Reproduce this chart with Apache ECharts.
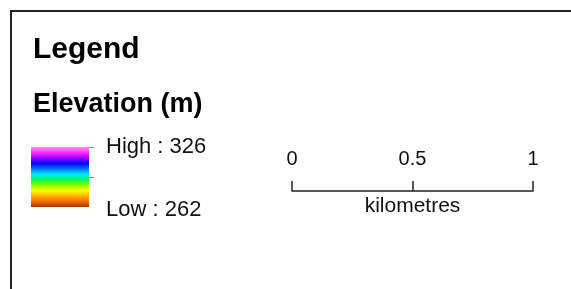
<!DOCTYPE html>
<html>
<head>
<meta charset="utf-8">
<script src="https://cdn.jsdelivr.net/npm/echarts@6/dist/echarts.min.js"></script>
<style>
  html, body { margin: 0; padding: 0; background: #fff; }
  #chart { width: 571px; height: 289px; }
</style>
</head>
<body>
<div id="chart"></div>
<script>
// elevation ramp, top (high) to bottom (low)
const rampColors = ['#ff90ff', '#ff30ff', '#a000ff', '#0000ff', '#0070ff', '#00e8ff', '#00ff50', '#90ff00', '#ffff00', '#ffb000', '#f07000', '#a83000'];
const elevMin = 262;
const elevMax = 326;
const elevTicks = [294, 326];
const elevLabels = { 326: 'High : 326', 262: 'Low : 262' };
// scale bar
const scaleMin = 0;
const scaleMax = 1;
const scaleStep = 0.5;
const scaleUnit = 'kilometres';

const font = 'Liberation Sans, Arial, sans-serif';
const myChart = echarts.init(document.getElementById('chart'));

const option = {
    animation: false,
    backgroundColor: '#fff',
    title: [
        { text: 'Legend', left: 28, top: 30, textStyle: { fontFamily: font, fontSize: 30, fontWeight: 'bold', color: '#000' } },
        { text: 'Elevation (m)', left: 28, top: 86, textStyle: { fontFamily: font, fontSize: 27, fontWeight: 'bold', color: '#000' } }
    ],
    graphic: [
        { type: 'rect', shape: { x: 11, y: 11, width: 700, height: 400 }, style: { fill: 'none', stroke: '#222', lineWidth: 2 }, silent: true }
    ],
    grid: [
        { left: 31, top: 147, width: 58, height: 60 },
        { left: 292, top: 150, width: 241, height: 41 }
    ],
    xAxis: [
        { gridIndex: 0, type: 'category', data: ['Elevation'], show: false },
        {
            gridIndex: 1, type: 'value', min: scaleMin, max: scaleMax, interval: scaleStep,
            position: 'bottom',
            axisLine: { lineStyle: { color: '#222', width: 1.5 } },
            axisTick: { inside: true, length: 10, lineStyle: { color: '#222', width: 1.5 } },
            axisLabel: { inside: true, margin: 22, color: '#111', fontFamily: font, fontSize: 20 },
            splitLine: { show: false },
            name: scaleUnit, nameLocation: 'middle', nameGap: 5,
            nameTextStyle: { color: '#111', fontFamily: font, fontSize: 21, verticalAlign: 'top' }
        }
    ],
    yAxis: [
        {
            gridIndex: 0, type: 'value', min: elevMin, max: elevMax, position: 'right',
            axisLine: { show: false },
            axisTick: { show: true, customValues: elevTicks, length: 5, lineStyle: { color: '#888' } },
            axisLabel: {
                customValues: [elevMin, elevMax], margin: 17, color: '#111', fontFamily: font, fontSize: 22,
                formatter: v => v === elevMin ? '{low|' + elevLabels[v] + '}' : elevLabels[v],
                rich: { low: { fontFamily: font, fontSize: 22, color: '#111', padding: [5, 0, 0, 0] } }
            },
            splitLine: { show: false }
        },
        { gridIndex: 1, type: 'value', show: false }
    ],
    series: [
        {
            type: 'bar', xAxisIndex: 0, yAxisIndex: 0, stack: 'ramp', barWidth: '100%',
            data: [elevMin], itemStyle: { color: 'transparent' }, silent: true
        },
        {
            type: 'bar', xAxisIndex: 0, yAxisIndex: 0, stack: 'ramp', barWidth: '100%',
            data: [elevMax - elevMin], silent: true,
            itemStyle: {
                color: new echarts.graphic.LinearGradient(0, 0, 0, 1,
                    rampColors.map((c, i) => ({ offset: i / (rampColors.length - 1), color: c })))
            }
        }
    ]
};

option && myChart.setOption(option);
</script>
</body>
</html>
